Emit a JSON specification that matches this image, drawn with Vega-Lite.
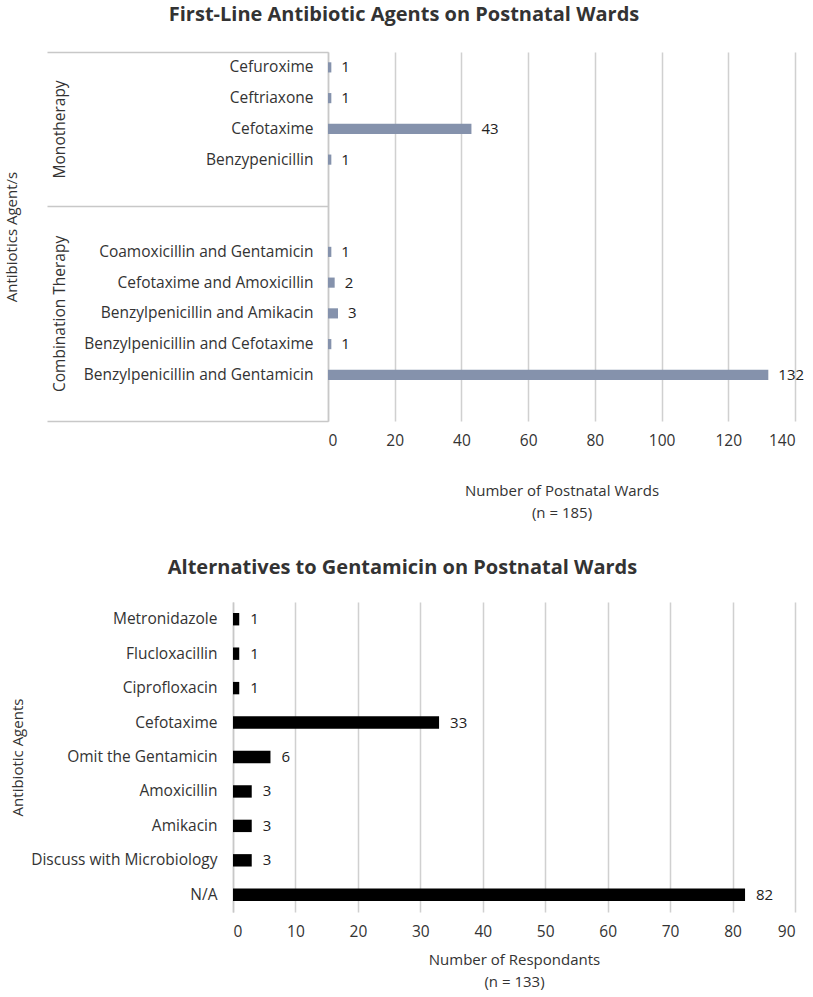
{
  "$schema": "https://vega.github.io/schema/vega-lite/v6.json",
  "background": "white",
  "padding": {"left": 3, "top": 5, "right": 5, "bottom": 5},
  "spacing": 37,
  "config": {
    "font": "Open Sans",
    "view": {"stroke": null},
    "concat": {"spacing": 0},
    "axis": {"labelFont": "Open Sans", "titleFont": "Open Sans", "labelColor": "#333333", "titleColor": "#333333", "labelFontSize": 15.5, "titleFontSize": 15, "titleFontWeight": "normal"},
    "title": {"font": "Open Sans", "fontSize": 20, "fontWeight": "bold", "color": "#333333", "anchor": "middle", "frame": "bounds"}
  },
  "vconcat": [
    {
      "spacing": 0,
      "hconcat": [
        {"width": 1, "height": 1, "data": {"values": []}, "mark": "point", "encoding": {}},
        {
          "title": {"text": "First-Line Antibiotic Agents on Postnatal Wards", "offset": 26},
          "width": 467,
          "height": 369,
          "data": {"values": [
            {"agent": "Cefuroxime", "n": 1},
            {"agent": "Ceftriaxone", "n": 1},
            {"agent": "Cefotaxime", "n": 43},
            {"agent": "Benzypenicillin", "n": 1},
            {"agent": "Coamoxicillin and Gentamicin", "n": 1},
            {"agent": "Cefotaxime and Amoxicillin", "n": 2},
            {"agent": "Benzylpenicillin and Amikacin", "n": 3},
            {"agent": "Benzylpenicillin and Cefotaxime", "n": 1},
            {"agent": "Benzylpenicillin and Gentamicin", "n": 132}
          ]},
          "encoding": {
            "x": {"field": "n", "type": "quantitative", "scale": {"domain": [0, 140], "nice": false},
                  "axis": {"values": [0, 20, 40, 60, 80, 100, 120, 140], "grid": true, "gridColor": "#d0d0d0", "gridWidth": 1.5, "domain": false, "ticks": false, "labelPadding": 12, "title": ["Number of Postnatal Wards", "(n = 185)"], "titleLineHeight": 22, "titlePadding": 35}}
          },
          "layer": [
            {
              "mark": {"type": "bar", "color": "#8592AC", "height": {"band": 0.33}},
              "encoding": {
                "y": {"field": "agent", "type": "nominal", "sort": null,
                      "scale": {"domain": ["Cefuroxime", "Ceftriaxone", "Cefotaxime", "Benzypenicillin", "gap1", "gap2", "Coamoxicillin and Gentamicin", "Cefotaxime and Amoxicillin", "Benzylpenicillin and Amikacin", "Benzylpenicillin and Cefotaxime", "Benzylpenicillin and Gentamicin", "gap3"], "paddingInner": 0, "paddingOuter": 0},
                      "axis": {"orient": "left", "title": null, "ticks": false, "domain": true, "domainColor": "#c8c8c8", "domainWidth": 1.5, "labelPadding": 15, "labelLimit": 400, "labelExpr": "indexof(datum.value, 'gap') === 0 ? '' : datum.value"}}
              }
            },
            {
              "mark": {"type": "text", "align": "left", "baseline": "middle", "dx": 10, "fontSize": 15, "color": "#222222"},
              "encoding": {
                "y": {"field": "agent", "type": "nominal", "sort": null,
                      "scale": {"domain": ["Cefuroxime", "Ceftriaxone", "Cefotaxime", "Benzypenicillin", "gap1", "gap2", "Coamoxicillin and Gentamicin", "Cefotaxime and Amoxicillin", "Benzylpenicillin and Amikacin", "Benzylpenicillin and Cefotaxime", "Benzylpenicillin and Gentamicin", "gap3"], "paddingInner": 0, "paddingOuter": 0},
                      "axis": {"orient": "left", "title": "Antibiotics Agent/s", "titlePadding": 109, "domain": false, "grid": false, "ticks": true, "tickBand": "extent", "tickSize": 281, "tickColor": "#c8c8c8", "tickWidth": 1.5,
                               "tickOpacity": {"condition": {"test": "datum.index < 0 || datum.value === 'gap1' || datum.value === 'gap3'", "value": 1}, "value": 0},
                               "labelExpr": "datum.value === 'Cefotaxime' ? 'Monotherapy' : (datum.value === 'Benzylpenicillin and Amikacin' ? 'Combination Therapy' : '')",
                               "labelAngle": 270, "labelAlign": "center", "labelBaseline": "middle", "labelPadding": -12, "labelLimit": 400}},
                "text": {"field": "n", "type": "quantitative"}
              }
            }
          ],
          "resolve": {"axis": {"y": "independent"}}
        }
      ]
    },
    {
      "spacing": 0,
      "hconcat": [
        {"width": 7, "height": 1, "data": {"values": []}, "mark": "point", "encoding": {}},
        {
          "title": {"text": "Alternatives to Gentamicin on Postnatal Wards", "offset": 24},
          "width": 562,
          "height": 310,
          "data": {"values": [
            {"agent": "Metronidazole", "n": 1},
            {"agent": "Flucloxacillin", "n": 1},
            {"agent": "Ciprofloxacin", "n": 1},
            {"agent": "Cefotaxime", "n": 33},
            {"agent": "Omit the Gentamicin", "n": 6},
            {"agent": "Amoxicillin", "n": 3},
            {"agent": "Amikacin", "n": 3},
            {"agent": "Discuss with Microbiology", "n": 3},
            {"agent": "N/A", "n": 82}
          ]},
          "encoding": {
            "y": {"field": "agent", "type": "nominal", "sort": null, "scale": {"paddingInner": 0, "paddingOuter": 0},
                  "axis": {"title": "Antibiotic Agents", "titlePadding": 8, "ticks": false, "domain": true, "domainColor": "#c8c8c8", "domainWidth": 1.5, "labelPadding": 16, "labelLimit": 400}},
            "x": {"field": "n", "type": "quantitative", "scale": {"domain": [0, 90], "nice": false},
                  "axis": {"values": [0, 10, 20, 30, 40, 50, 60, 70, 80, 90], "grid": true, "gridColor": "#d0d0d0", "gridWidth": 1.5, "domain": false, "ticks": false, "labelPadding": 12, "title": ["Number of Respondants", "(n = 133)"], "titleLineHeight": 22, "titlePadding": 13}}
          },
          "layer": [
            {"mark": {"type": "bar", "color": "#000000", "height": {"band": 0.36}}},
            {"mark": {"type": "text", "align": "left", "baseline": "middle", "dx": 11, "fontSize": 15, "color": "#222222"},
             "encoding": {"text": {"field": "n", "type": "quantitative"}}}
          ]
        }
      ]
    }
  ]
}
